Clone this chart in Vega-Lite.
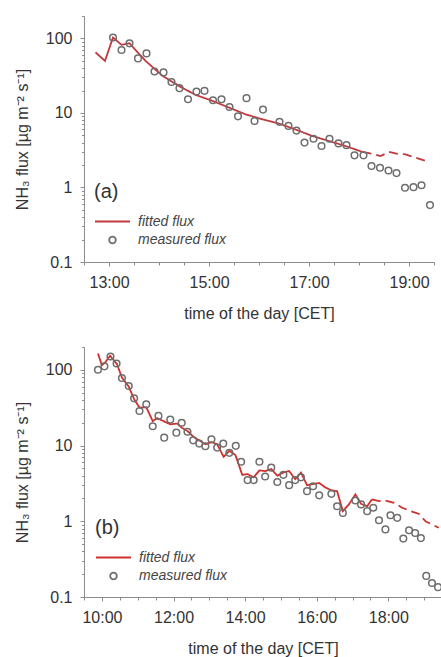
{
  "$schema": "https://vega.github.io/schema/vega-lite/v6.json",
  "background": "white",
  "padding": {"left": 14, "top": 15, "right": 2, "bottom": 5},
  "spacing": 25,
  "resolve": {
    "scale": {"color": "independent", "shape": "independent", "size": "independent", "strokeDash": "independent"},
    "legend": {"color": "independent", "shape": "independent", "size": "independent"}
  },
  "config": {
    "font": "Liberation Sans",
    "view": {"stroke": null},
    "axis": {
      "grid": false,
      "domainColor": "#8c8c8c",
      "tickColor": "#8c8c8c",
      "labelColor": "#333333",
      "titleColor": "#333333",
      "labelFontSize": 16,
      "titleFontSize": 16,
      "titleFontWeight": "normal",
      "labelFont": "Liberation Sans",
      "titleFont": "Liberation Sans"
    }
  },
  "datasets": {
    "a_meas": [
      {"t": 13.08, "v": 103, "series": "measured flux"},
      {"t": 13.25, "v": 70, "series": "measured flux"},
      {"t": 13.41, "v": 86, "series": "measured flux"},
      {"t": 13.58, "v": 54, "series": "measured flux"},
      {"t": 13.75, "v": 63, "series": "measured flux"},
      {"t": 13.91, "v": 36, "series": "measured flux"},
      {"t": 14.09, "v": 35, "series": "measured flux"},
      {"t": 14.25, "v": 26, "series": "measured flux"},
      {"t": 14.41, "v": 21.5, "series": "measured flux"},
      {"t": 14.58, "v": 15.3, "series": "measured flux"},
      {"t": 14.75, "v": 19.4, "series": "measured flux"},
      {"t": 14.91, "v": 19.8, "series": "measured flux"},
      {"t": 15.08, "v": 14.8, "series": "measured flux"},
      {"t": 15.25, "v": 15.3, "series": "measured flux"},
      {"t": 15.41, "v": 12.0, "series": "measured flux"},
      {"t": 15.58, "v": 9.0, "series": "measured flux"},
      {"t": 15.75, "v": 15.8, "series": "measured flux"},
      {"t": 15.91, "v": 7.8, "series": "measured flux"},
      {"t": 16.08, "v": 11.1, "series": "measured flux"},
      {"t": 16.41, "v": 7.6, "series": "measured flux"},
      {"t": 16.59, "v": 6.7, "series": "measured flux"},
      {"t": 16.75, "v": 5.8, "series": "measured flux"},
      {"t": 16.91, "v": 4.0, "series": "measured flux"},
      {"t": 17.09, "v": 4.5, "series": "measured flux"},
      {"t": 17.25, "v": 3.6, "series": "measured flux"},
      {"t": 17.41, "v": 4.5, "series": "measured flux"},
      {"t": 17.59, "v": 3.9, "series": "measured flux"},
      {"t": 17.75, "v": 3.7, "series": "measured flux"},
      {"t": 17.91, "v": 2.7, "series": "measured flux"},
      {"t": 18.09, "v": 2.7, "series": "measured flux"},
      {"t": 18.25, "v": 1.94, "series": "measured flux"},
      {"t": 18.42, "v": 1.84, "series": "measured flux"},
      {"t": 18.59, "v": 1.69, "series": "measured flux"},
      {"t": 18.75, "v": 1.56, "series": "measured flux"},
      {"t": 18.92, "v": 0.99, "series": "measured flux"},
      {"t": 19.09, "v": 1.01, "series": "measured flux"},
      {"t": 19.25, "v": 1.07, "series": "measured flux"},
      {"t": 19.42, "v": 0.58, "series": "measured flux"}
    ],
    "a_fit": [
      {"t": 12.73, "v": 65, "part": "solid"},
      {"t": 12.92, "v": 50, "part": "solid"},
      {"t": 13.08, "v": 103, "part": "solid"},
      {"t": 13.25, "v": 82, "part": "solid"},
      {"t": 13.41, "v": 86, "part": "solid"},
      {"t": 13.73, "v": 50, "part": "solid"},
      {"t": 14.07, "v": 31.5, "part": "solid"},
      {"t": 14.4, "v": 23, "part": "solid"},
      {"t": 14.73, "v": 17.5, "part": "solid"},
      {"t": 15.07, "v": 14.5, "part": "solid"},
      {"t": 15.4, "v": 11.8, "part": "solid"},
      {"t": 15.73, "v": 9.6, "part": "solid"},
      {"t": 16.07, "v": 8.2, "part": "solid"},
      {"t": 16.4, "v": 7.2, "part": "solid"},
      {"t": 16.73, "v": 6.0, "part": "solid"},
      {"t": 17.07, "v": 4.9, "part": "solid"},
      {"t": 17.4, "v": 4.2, "part": "solid"},
      {"t": 17.73, "v": 3.6, "part": "solid"},
      {"t": 18.07, "v": 3.0, "part": "solid"},
      {"t": 18.07, "v": 3.0, "part": "dashed"},
      {"t": 18.27, "v": 2.83, "part": "dashed"},
      {"t": 18.43, "v": 2.64, "part": "dashed"},
      {"t": 18.6, "v": 3.0, "part": "dashed"},
      {"t": 18.77, "v": 2.83, "part": "dashed"},
      {"t": 18.93, "v": 2.78, "part": "dashed"},
      {"t": 19.1, "v": 2.56, "part": "dashed"},
      {"t": 19.39, "v": 2.2, "part": "dashed"}
    ],
    "b_meas": [
      {"t": 9.89, "v": 100, "series": "measured flux"},
      {"t": 10.07, "v": 111, "series": "measured flux"},
      {"t": 10.24, "v": 150, "series": "measured flux"},
      {"t": 10.41, "v": 121, "series": "measured flux"},
      {"t": 10.56, "v": 78, "series": "measured flux"},
      {"t": 10.75, "v": 61, "series": "measured flux"},
      {"t": 10.9, "v": 42, "series": "measured flux"},
      {"t": 11.05, "v": 28.6, "series": "measured flux"},
      {"t": 11.24, "v": 35, "series": "measured flux"},
      {"t": 11.42, "v": 18, "series": "measured flux"},
      {"t": 11.58, "v": 24.6, "series": "measured flux"},
      {"t": 11.74, "v": 12.7, "series": "measured flux"},
      {"t": 11.91, "v": 22, "series": "measured flux"},
      {"t": 12.08, "v": 14.8, "series": "measured flux"},
      {"t": 12.23, "v": 20, "series": "measured flux"},
      {"t": 12.39, "v": 15.2, "series": "measured flux"},
      {"t": 12.55, "v": 11.7, "series": "measured flux"},
      {"t": 12.72, "v": 10.6, "series": "measured flux"},
      {"t": 12.89, "v": 9.8, "series": "measured flux"},
      {"t": 13.06, "v": 12.1, "series": "measured flux"},
      {"t": 13.22, "v": 9.4, "series": "measured flux"},
      {"t": 13.39, "v": 10.6, "series": "measured flux"},
      {"t": 13.56, "v": 8.0, "series": "measured flux"},
      {"t": 13.74, "v": 9.9, "series": "measured flux"},
      {"t": 13.89, "v": 6.1, "series": "measured flux"},
      {"t": 14.07, "v": 3.5, "series": "measured flux"},
      {"t": 14.24, "v": 3.5, "series": "measured flux"},
      {"t": 14.4, "v": 6.1, "series": "measured flux"},
      {"t": 14.56, "v": 3.9, "series": "measured flux"},
      {"t": 14.73, "v": 5.1, "series": "measured flux"},
      {"t": 14.9, "v": 3.3, "series": "measured flux"},
      {"t": 15.07, "v": 4.1, "series": "measured flux"},
      {"t": 15.23, "v": 3.0, "series": "measured flux"},
      {"t": 15.4, "v": 3.5, "series": "measured flux"},
      {"t": 15.56, "v": 3.8, "series": "measured flux"},
      {"t": 15.73, "v": 2.5, "series": "measured flux"},
      {"t": 15.9, "v": 2.9, "series": "measured flux"},
      {"t": 16.07, "v": 2.2, "series": "measured flux"},
      {"t": 16.41, "v": 2.3, "series": "measured flux"},
      {"t": 16.57, "v": 1.58, "series": "measured flux"},
      {"t": 16.73, "v": 1.29, "series": "measured flux"},
      {"t": 17.08, "v": 1.88, "series": "measured flux"},
      {"t": 17.24, "v": 1.67, "series": "measured flux"},
      {"t": 17.41, "v": 1.36, "series": "measured flux"},
      {"t": 17.58, "v": 1.51, "series": "measured flux"},
      {"t": 17.74, "v": 1.03, "series": "measured flux"},
      {"t": 17.92, "v": 0.78, "series": "measured flux"},
      {"t": 18.06, "v": 1.2, "series": "measured flux"},
      {"t": 18.25, "v": 1.11, "series": "measured flux"},
      {"t": 18.42, "v": 0.59, "series": "measured flux"},
      {"t": 18.58, "v": 0.76, "series": "measured flux"},
      {"t": 18.75, "v": 0.7, "series": "measured flux"},
      {"t": 18.91, "v": 0.6, "series": "measured flux"},
      {"t": 19.06, "v": 0.19, "series": "measured flux"},
      {"t": 19.22, "v": 0.153, "series": "measured flux"},
      {"t": 19.39, "v": 0.135, "series": "measured flux"}
    ],
    "b_fit": [
      {"t": 9.89, "v": 164, "part": "solid"},
      {"t": 10.0, "v": 115, "part": "solid"},
      {"t": 10.09, "v": 125, "part": "solid"},
      {"t": 10.23, "v": 153, "part": "solid"},
      {"t": 10.42, "v": 119, "part": "solid"},
      {"t": 10.56, "v": 79, "part": "solid"},
      {"t": 10.75, "v": 60, "part": "solid"},
      {"t": 10.9, "v": 41, "part": "solid"},
      {"t": 11.05, "v": 31.7, "part": "solid"},
      {"t": 11.24, "v": 32, "part": "solid"},
      {"t": 11.42, "v": 21, "part": "solid"},
      {"t": 11.54, "v": 23, "part": "solid"},
      {"t": 11.72, "v": 21, "part": "solid"},
      {"t": 11.91, "v": 19.1, "part": "solid"},
      {"t": 12.1, "v": 19.5, "part": "solid"},
      {"t": 12.23, "v": 17.2, "part": "solid"},
      {"t": 12.39, "v": 15.6, "part": "solid"},
      {"t": 12.56, "v": 13, "part": "solid"},
      {"t": 12.72, "v": 11.7, "part": "solid"},
      {"t": 12.89, "v": 10.4, "part": "solid"},
      {"t": 13.06, "v": 11.1, "part": "solid"},
      {"t": 13.22, "v": 10.4, "part": "solid"},
      {"t": 13.4, "v": 7.1, "part": "solid"},
      {"t": 13.56, "v": 8.5, "part": "solid"},
      {"t": 13.73, "v": 7.5, "part": "solid"},
      {"t": 13.92, "v": 4.1, "part": "solid"},
      {"t": 14.07, "v": 4.2, "part": "solid"},
      {"t": 14.24, "v": 3.8, "part": "solid"},
      {"t": 14.4, "v": 4.7, "part": "solid"},
      {"t": 14.56, "v": 4.6, "part": "solid"},
      {"t": 14.73, "v": 4.9, "part": "solid"},
      {"t": 14.9, "v": 4.0, "part": "solid"},
      {"t": 15.07, "v": 4.4, "part": "solid"},
      {"t": 15.23, "v": 4.6, "part": "solid"},
      {"t": 15.4, "v": 3.6, "part": "solid"},
      {"t": 15.56, "v": 4.4, "part": "solid"},
      {"t": 15.73, "v": 3.0, "part": "solid"},
      {"t": 15.9, "v": 3.1, "part": "solid"},
      {"t": 16.07, "v": 3.2, "part": "solid"},
      {"t": 16.24, "v": 2.8, "part": "solid"},
      {"t": 16.41, "v": 2.56, "part": "solid"},
      {"t": 16.57, "v": 2.5, "part": "solid"},
      {"t": 16.73, "v": 1.36, "part": "solid"},
      {"t": 16.9, "v": 1.67, "part": "solid"},
      {"t": 17.08, "v": 2.26, "part": "solid"},
      {"t": 17.24, "v": 1.7, "part": "solid"},
      {"t": 17.41, "v": 1.58, "part": "solid"},
      {"t": 17.54, "v": 1.94, "part": "solid"},
      {"t": 17.54, "v": 1.94, "part": "dashed"},
      {"t": 17.74, "v": 1.85, "part": "dashed"},
      {"t": 17.92, "v": 1.88, "part": "dashed"},
      {"t": 18.16, "v": 1.75, "part": "dashed"},
      {"t": 18.39, "v": 1.51, "part": "dashed"},
      {"t": 18.63, "v": 1.36, "part": "dashed"},
      {"t": 18.86, "v": 1.25, "part": "dashed"},
      {"t": 19.04, "v": 1.0, "part": "dashed"},
      {"t": 19.41, "v": 0.82, "part": "dashed"}
    ]
  },
  "vconcat": [
    {
      "width": 350,
      "height": 246,
      "resolve": {"axis": {"x": "independent", "y": "independent"}},
      "layer": [
        {
          "data": {"name": "a_fit"},
          "mark": {"type": "line", "color": "#c0393d", "strokeWidth": 1.8},
          "encoding": {
            "x": {"field": "t", "type": "quantitative",
              "scale": {"domain": [12.5, 19.5], "nice": false, "zero": false},
              "axis": {"orient": "bottom", "values": [13, 15, 17, 19], "labelExpr": "datum.value + ':00'", "tickSize": 4, "labelPadding": 8, "title": "time of the day [CET]", "titlePadding": 15, "labelFlush": false}},
            "y": {"field": "v", "type": "quantitative",
              "scale": {"type": "log", "domain": [0.1, 200], "nice": false},
              "axis": {"orient": "left", "values": [0.1, 1, 10, 100], "format": "~g", "tickSize": 4, "labelPadding": 8, "title": "NH₃ flux [µg m⁻² s⁻¹]", "titlePadding": 15, "titleFontSize": 16}},
            "detail": {"field": "part"},
            "strokeDash": {"field": "part", "type": "nominal",
              "scale": {"domain": ["solid", "dashed"], "range": [[1, 0], [9, 5]]}, "legend": null}
          }
        },
        {
          "data": {"name": "a_meas"},
          "mark": {"type": "point", "filled": false, "opacity": 1, "strokeWidth": 1.5},
          "encoding": {
            "x": {"field": "t", "type": "quantitative",
              "axis": {"orient": "bottom", "values": [12.5, 13.5, 14, 14.5, 15.5, 16, 16.5, 17.5, 18, 18.5, 19.5], "labels": false, "domain": false, "tickSize": 3, "title": null}},
            "y": {"field": "v", "type": "quantitative",
              "axis": {"orient": "left", "values": [0.2, 0.3, 0.4, 0.5, 0.6, 0.7, 0.8, 0.9, 2, 3, 4, 5, 6, 7, 8, 9, 20, 30, 40, 50, 60, 70, 80, 90, 200], "labels": false, "domain": false, "tickSize": 2.5, "title": null}},
            "color": {"field": "series", "type": "nominal",
              "scale": {"domain": ["fitted flux", "measured flux"], "range": ["#c0393d", "#6e6e6e"]},
              "legend": {"orient": "none", "legendX": 10, "legendY": 166, "title": "(a)", "titleFontSize": 20, "titleFontWeight": "normal", "titleColor": "#333333", "titleFont": "Liberation Sans", "labelFont": "Liberation Sans", "labelFontSize": 14, "labelFontStyle": "italic", "labelColor": "#444444", "labelOffset": 7, "symbolOpacity": 1, "padding": 0, "rowPadding": 4, "titlePadding": 1, "symbolStrokeWidth": 1.8}},
            "shape": {"field": "series", "type": "nominal",
              "scale": {"domain": ["fitted flux", "measured flux"], "range": ["stroke", "circle"]}},
            "size": {"field": "series", "type": "nominal",
              "scale": {"type": "ordinal", "domain": ["fitted flux", "measured flux"], "range": [1225, 44]}}
          }
        }
      ]
    },
    {
      "width": 358,
      "height": 250,
      "resolve": {"axis": {"x": "independent", "y": "independent"}},
      "layer": [
        {
          "data": {"name": "b_fit"},
          "mark": {"type": "line", "color": "#d0302c", "strokeWidth": 1.8},
          "encoding": {
            "x": {"field": "t", "type": "quantitative",
              "scale": {"domain": [9.5, 19.5], "nice": false, "zero": false},
              "axis": {"orient": "bottom", "values": [10, 12, 14, 16, 18], "labelExpr": "datum.value + ':00'", "tickSize": 4, "labelPadding": 8, "title": "time of the day [CET]", "titlePadding": 15, "labelFlush": false}},
            "y": {"field": "v", "type": "quantitative",
              "scale": {"type": "log", "domain": [0.1, 200], "nice": false},
              "axis": {"orient": "left", "values": [0.1, 1, 10, 100], "format": "~g", "tickSize": 4, "labelPadding": 8, "title": "NH₃ flux [µg m⁻² s⁻¹]", "titlePadding": 15, "titleFontSize": 16}},
            "detail": {"field": "part"},
            "strokeDash": {"field": "part", "type": "nominal",
              "scale": {"domain": ["solid", "dashed"], "range": [[1, 0], [9, 5]]}, "legend": null}
          }
        },
        {
          "data": {"name": "b_meas"},
          "mark": {"type": "point", "filled": false, "opacity": 1, "strokeWidth": 1.5},
          "encoding": {
            "x": {"field": "t", "type": "quantitative",
              "axis": {"orient": "bottom", "values": [9.5, 10.5, 11, 11.5, 12.5, 13, 13.5, 14.5, 15, 15.5, 16.5, 17, 17.5, 18.5, 19, 19.5], "labels": false, "domain": false, "tickSize": 3, "title": null}},
            "y": {"field": "v", "type": "quantitative",
              "axis": {"orient": "left", "values": [0.2, 0.3, 0.4, 0.5, 0.6, 0.7, 0.8, 0.9, 2, 3, 4, 5, 6, 7, 8, 9, 20, 30, 40, 50, 60, 70, 80, 90, 200], "labels": false, "domain": false, "tickSize": 2.5, "title": null}},
            "color": {"field": "series", "type": "nominal",
              "scale": {"domain": ["fitted flux", "measured flux"], "range": ["#d0302c", "#6e6e6e"]},
              "legend": {"orient": "none", "legendX": 11, "legendY": 171, "title": "(b)", "titleFontSize": 20, "titleFontWeight": "normal", "titleColor": "#333333", "titleFont": "Liberation Sans", "labelFont": "Liberation Sans", "labelFontSize": 14, "labelFontStyle": "italic", "labelColor": "#444444", "labelOffset": 7, "symbolOpacity": 1, "padding": 0, "rowPadding": 4, "titlePadding": 1, "symbolStrokeWidth": 1.8}},
            "shape": {"field": "series", "type": "nominal",
              "scale": {"domain": ["fitted flux", "measured flux"], "range": ["stroke", "circle"]}},
            "size": {"field": "series", "type": "nominal",
              "scale": {"type": "ordinal", "domain": ["fitted flux", "measured flux"], "range": [1225, 44]}}
          }
        }
      ]
    }
  ]
}
